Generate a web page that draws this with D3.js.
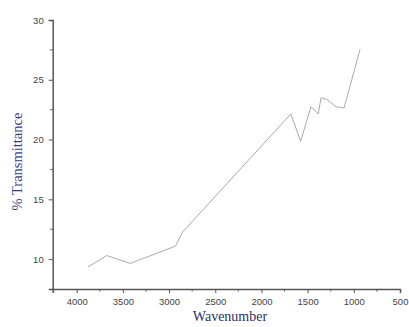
<!DOCTYPE html>
<html><head><meta charset="utf-8">
<script src="https://cdn.jsdelivr.net/npm/d3@7"></script>
<style>body{margin:0;background:#fff}svg{display:block}</style>
</head><body>
<svg id="c" width="409" height="327"></svg>
<script>
const wavenumbers = [3877, 3674, 3420, 2932, 2852, 1682, 1576, 1464, 1385, 1355, 1294, 1192, 1106, 932];
const transmittance = [9.35, 10.3, 9.64, 11.08, 12.28, 22.14, 19.86, 22.75, 22.14, 23.5, 23.36, 22.75, 22.64, 27.56];
const xTicks = [4000, 3500, 3000, 2500, 2000, 1500, 1000, 500];
const yTicks = [10, 15, 20, 25, 30];
const xTitle = "Wavenumber";
const yTitle = "% Transmittance";

(function () {
const svg = d3.select("#c");
const mLeft = 52.7, mRight = 400, mTop = 20, mBottom = 289;
const x = d3.scaleLinear().domain([4260, 500]).range([mLeft, mRight]);
const y = d3.scaleLinear().domain([7.5, 30]).range([mBottom, mTop]);

const axisColor = "#555";
const xMinor = d3.range(4250, 500, -250).filter(v => v % 500 !== 0);
const yMinor = [12.5, 17.5, 22.5, 27.5];

const gx = svg.append("g").attr("transform", `translate(0,${mBottom})`)
  .call(d3.axisBottom(x).tickValues(xTicks).tickSize(4).tickPadding(5).tickFormat(d3.format("d")));
gx.append("g").selectAll("line").data(xMinor).join("line")
  .attr("x1", d => x(d)).attr("x2", d => x(d)).attr("y1", 0).attr("y2", 2.5);
const gy = svg.append("g").attr("transform", `translate(${mLeft},0)`)
  .call(d3.axisLeft(y).tickValues(yTicks).tickSize(4).tickPadding(5));
gy.append("g").selectAll("line").data(yMinor).join("line")
  .attr("y1", d => y(d)).attr("y2", d => y(d)).attr("x1", 0).attr("x2", -2.5);

[gx, gy].forEach(g => {
  g.select(".domain").attr("stroke", axisColor).attr("stroke-width", 1.5);
  g.selectAll("line").attr("stroke", axisColor);
  g.selectAll("text").attr("fill", "#444").attr("font-family", "'Liberation Sans', Arial, sans-serif").attr("font-size", 9.5);
});

svg.append("path")
  .datum(wavenumbers.map((w, i) => [w, transmittance[i]]))
  .attr("fill", "none").attr("stroke", "#aaa").attr("stroke-width", 1)
  .attr("d", d3.line().x(d => x(d[0])).y(d => y(d[1])));

svg.append("text").attr("x", 230).attr("y", 321).attr("text-anchor", "middle")
  .attr("font-family", "'Liberation Serif', 'Times New Roman', serif").attr("font-size", 14)
  .attr("fill", "#2b2f6b").text(xTitle);
svg.append("text").attr("transform", "translate(22,161.5) rotate(-90)").attr("text-anchor", "middle")
  .attr("font-family", "'Liberation Serif', 'Times New Roman', serif").attr("font-size", 14.5)
  .attr("fill", "#3c3c86").text(yTitle);
})();
</script>
</body></html>
